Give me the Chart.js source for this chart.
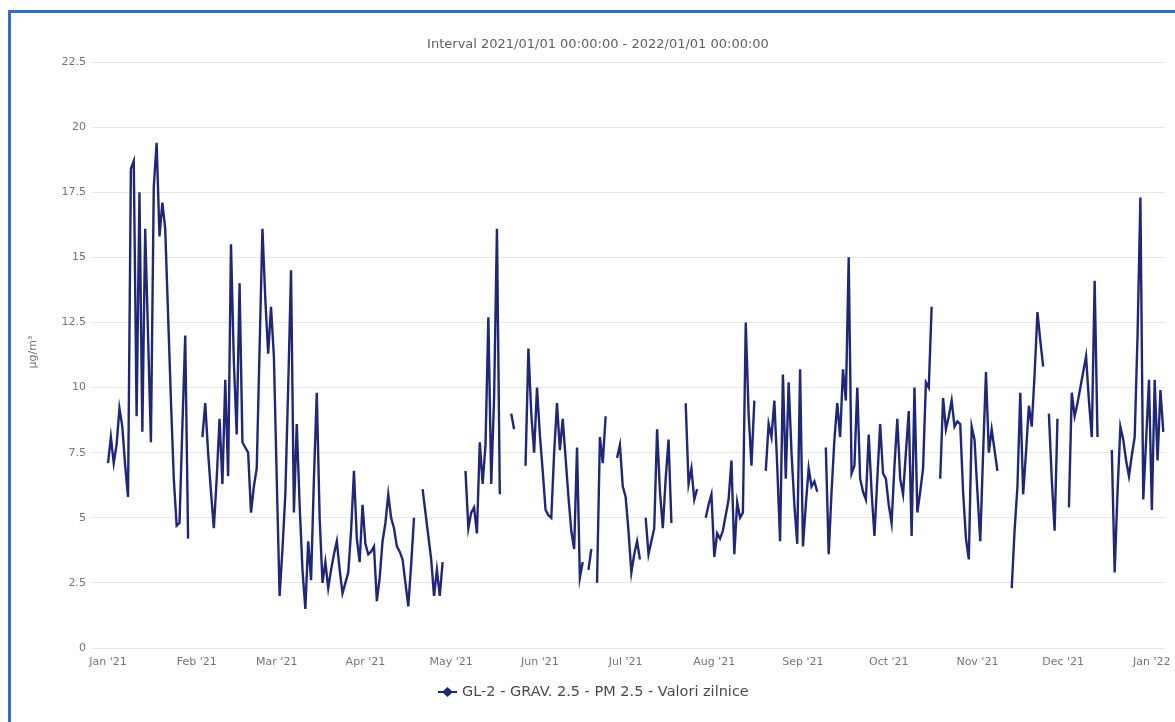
<!DOCTYPE html>
<html>
<head>
<meta charset="utf-8">
<title>GL-2 PM 2.5</title>
<script src="https://cdn.jsdelivr.net/npm/chart.js@4.4.0/dist/chart.umd.min.js"></script>
<style>
  html, body { margin: 0; padding: 0; background: #ffffff; overflow: hidden; }
  #frame {
    position: absolute; left: 8px; top: 10px; width: 1180px; height: 730px;
    border-left: 3px solid #2f6fd0; border-top: 3px solid #2f6fd0;
    box-sizing: border-box; pointer-events: none;
  }
  #chart { position: absolute; left: 0; top: 0; }
</style>
</head>
<body>
<canvas id="chart" width="1175" height="722"></canvas>
<div id="frame"></div>
<script>
// Daily PM2.5 averages (µg/m³) from 1 Jan 2021; null = no valid measurement that day
const startDate = '2021-01-01';
const dailyPm25 = [
  7.1, 8.1, 7.1, 7.8, 9.2, 8.5, 7.0, 5.8, 18.4, 18.7,
  8.9, 17.5, 8.3, 16.1, 12.0, 7.9, 17.7, 19.4, 15.8, 17.1,
  16.1, 12.8, 9.5, 6.5, 4.7, 4.8, 8.5, 12.0, 4.2, null,
  null, null, null, 8.1, 9.4, 7.5, 6.0, 4.6, 6.5, 8.8,
  6.3, 10.3, 6.6, 15.5, 11.0, 8.2, 14.0, 7.9, 7.7, 7.5,
  5.2, 6.2, 6.9, 11.5, 16.1, 13.4, 11.3, 13.1, 11.2, 6.5,
  2.0, 3.8, 5.9, 10.0, 14.5, 5.2, 8.6, 5.5, 3.0, 1.5,
  4.1, 2.6, 6.5, 9.8, 5.0, 2.5, 3.3, 2.3, 3.0, 3.6,
  4.1, 3.0, 2.1, 2.5, 2.9, 4.5, 6.8, 4.2, 3.3, 5.5,
  4.0, 3.6, 3.7, 3.9, 1.8, 2.7, 4.1, 4.8, 5.9, 5.0,
  4.6, 3.9, 3.7, 3.4, 2.5, 1.6, 3.2, 5.0, null, null,
  6.1, 5.2, 4.3, 3.4, 2.0, 3.0, 2.0, 3.3, null, null,
  null, null, null, null, null, 6.8, 4.6, 5.2, 5.4, 4.4,
  7.9, 6.3, 7.8, 12.7, 6.3, 9.6, 16.1, 5.9, null, null,
  null, 9.0, 8.4, null, null, null, 7.0, 11.5, 9.0, 7.5,
  10.0, 8.2, 6.8, 5.3, 5.1, 5.0, 7.5, 9.4, 7.6, 8.8,
  7.3, 5.8, 4.5, 3.8, 7.7, 2.7, 3.3, null, 3.0, 3.8,
  null, 2.5, 8.1, 7.1, 8.9, null, null, null, 7.3, 7.8,
  6.2, 5.8, 4.5, 2.9, 3.6, 4.1, 3.4, null, 5.0, 3.6,
  4.1, 4.6, 8.4, 6.0, 4.6, 6.5, 8.0, 4.8, null, null,
  null, null, 9.4, 6.3, 6.9, 5.7, 6.1, null, null, 5.0,
  5.5, 5.9, 3.5, 4.4, 4.2, 4.5, 5.1, 5.7, 7.2, 3.6,
  5.6, 5.0, 5.2, 12.5, 9.0, 7.0, 9.5, null, null, null,
  6.8, 8.6, 8.1, 9.5, 7.0, 4.1, 10.5, 6.5, 10.2, 7.5,
  5.5, 4.0, 10.7, 3.9, 5.5, 6.9, 6.2, 6.4, 6.0, null,
  null, 7.7, 3.6, 6.0, 8.0, 9.4, 8.1, 10.7, 9.5, 15.0,
  6.7, 7.0, 10.0, 6.5, 6.0, 5.7, 8.2, 6.0, 4.3, 6.5,
  8.6, 6.7, 6.5, 5.5, 4.8, 7.0, 8.8, 6.5, 5.9, 7.5,
  9.1, 4.3, 10.0, 5.2, 6.0, 6.9, 10.2, 10.0, 13.1, null,
  null, 6.5, 9.6, 8.4, 8.9, 9.5, 8.5, 8.7, 8.6, 6.0,
  4.2, 3.4, 8.5, 8.0, 6.0, 4.1, 7.5, 10.6, 7.5, 8.4,
  7.6, 6.8, null, null, null, null, 2.3, 4.5, 6.2, 9.8,
  5.9, 7.5, 9.3, 8.5, 10.5, 12.9, 11.8, 10.8, null, 9.0,
  6.5, 4.5, 8.8, null, null, null, 5.4, 9.8, 8.9, 9.4,
  10.0, 10.6, 11.2, 9.5, 8.1, 14.1, 8.1, null, null, null,
  null, 7.6, 2.9, 6.0, 8.5, 8.0, 7.2, 6.6, 7.4, 8.1,
  12.0, 17.3, 5.7, 8.0, 10.3, 5.3, 10.3, 7.2, 9.9, 8.3
];

// Axis labels
const monthLabels = ["Jan '21", "Feb '21", "Mar '21", "Apr '21", "May '21", "Jun '21",
                     "Jul '21", "Aug '21", "Sep '21", "Oct '21", "Nov '21", "Dec '21", "Jan '22"];
const chartSubtitle = 'Interval 2021/01/01 00:00:00 - 2022/01/01 00:00:00';
const yAxisTitle = 'µg/m³';
const seriesName = 'GL-2 - GRAV. 2.5 - PM 2.5 - Valori zilnice';

// Day offsets of each month start relative to the first day of the series
const t0 = Date.parse(startDate + 'T00:00:00Z');
const monthStartDays = monthLabels.map((_, i) => Math.round((Date.UTC(2021, i, 1) - t0) / 864e5));

const points = dailyPm25.map((v, i) => ({ x: i, y: v }));

const LINE_COLOR = '#1f2878';
const TEXT_COLOR = '#757575';
const FONT = '"DejaVu Sans", Verdana, sans-serif';

const decorations = {
  id: 'decorations',
  afterDraw(chart) {
    const ctx = chart.ctx;
    ctx.save();
    // subtitle
    ctx.fillStyle = '#606060';
    ctx.font = '13px ' + FONT;
    ctx.textAlign = 'center';
    ctx.textBaseline = 'middle';
    ctx.fillText(chartSubtitle, 598, 45);

    // y axis title
    ctx.save();
    ctx.translate(33, 352);
    ctx.rotate(-Math.PI / 2);
    ctx.fillStyle = TEXT_COLOR;
    ctx.font = '11px ' + FONT;
    ctx.fillText(yAxisTitle, 0, 0);
    ctx.restore();

    // legend entry: line with diamond marker
    const ly = 692, lx = 438;
    ctx.strokeStyle = LINE_COLOR;
    ctx.lineWidth = 2;
    ctx.beginPath();
    ctx.moveTo(lx, ly);
    ctx.lineTo(lx + 19, ly);
    ctx.stroke();
    ctx.fillStyle = LINE_COLOR;
    ctx.beginPath();
    ctx.moveTo(lx + 9.5, ly - 5);
    ctx.lineTo(lx + 15, ly);
    ctx.lineTo(lx + 9.5, ly + 5);
    ctx.lineTo(lx + 4, ly);
    ctx.closePath();
    ctx.fill();
    ctx.fillStyle = '#4a4a4a';
    ctx.font = '14.5px ' + FONT;
    ctx.textAlign = 'left';
    ctx.fillText(seriesName, lx + 24, ly);
    ctx.restore();
  }
};

new Chart(document.getElementById('chart'), {
  type: 'line',
  data: {
    datasets: [{
      label: seriesName,
      data: points,
      borderColor: LINE_COLOR,
      backgroundColor: LINE_COLOR,
      borderWidth: 2.4,
      pointRadius: 0,
      tension: 0,
      spanGaps: false
    }]
  },
  options: {
    responsive: false,
    animation: false,
    layout: { padding: { left: 0, right: 10, top: 62, bottom: 0 } },
    plugins: { legend: { display: false }, tooltip: { enabled: false } },
    scales: {
      x: {
        type: 'linear',
        min: -5.6,
        max: 369.6,
        grid: { display: false, drawTicks: false },
        border: { display: false },
        afterBuildTicks(scale) {
          scale.ticks = monthStartDays.map(v => ({ value: v }));
        },
        afterFit(scale) {
          scale.height = 74;
          scale.paddingLeft = 0;
          scale.paddingRight = 0;
        },
        ticks: {
          autoSkip: false,
          maxRotation: 0,
          padding: 8,
          color: TEXT_COLOR,
          font: { size: 11, family: FONT },
          callback: (value, index) => monthLabels[index]
        }
      },
      y: {
        min: 0,
        max: 22.5,
        grid: { color: '#e6e6e6', lineWidth: 1, drawTicks: false },
        border: { display: false },
        afterFit(scale) { scale.width = 92; },
        ticks: {
          stepSize: 2.5,
          padding: 6,
          color: TEXT_COLOR,
          font: { size: 11, family: FONT },
          callback: v => String(v)
        }
      }
    }
  },
  plugins: [decorations]
});
</script>
</body>
</html>
